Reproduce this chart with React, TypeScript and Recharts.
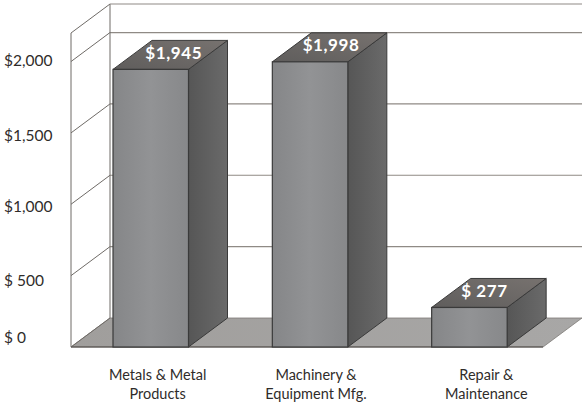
import React from 'react';
import { BarChart, Bar, XAxis, YAxis, CartesianGrid } from 'recharts';

const categories = ['Metals & Metal|Products', 'Machinery &|Equipment Mfg.', 'Repair &|Maintenance'];
const values = [1945, 1998, 277];
const valueLabels = ['$1,945', '$1,998', '$ 277'];
const yTicks = [0, 500, 1000, 1500, 2000, 2200];
const yLabels: Record<number, string> = { 0: '$ 0', 500: '$ 500', 1000: '$1,000', 1500: '$1,500', 2000: '$2,000', 2200: '' };
const yLabelNudge: Record<number, number> = { 0: -9, 500: 5.5, 1000: 3, 1500: 3.5, 2000: -1, 2200: 0 };
const xLabelNudge = [7, 6, 17];
const valueLabelNudge = [23, 21, 15];

const table = categories.map((name, i) => ({ name, value: values[i], label: valueLabels[i] }));

// Oblique projection used for the floor, the wall and the bar depth
const DX = 39;
const DY = 29;
const FONT = 'Lato, "Open Sans", sans-serif';

function wallLine(p: any) {
  const { x1, y1, x2, y, height, index } = p;
  const bottom = y + height;
  const isFloor = Math.abs(y1 - bottom) < 0.5;
  const isTop = Math.abs(y1 - y) < 0.5;
  return (
    <g key={`wall-${index}`}>
      {isFloor && (
        <polygon
          points={`${x1},${y1} ${x1 + DX},${y1 - DY} ${x2 + 33},${y1 - DY} ${x2 - 6},${y1}`}
          fill="url(#floorFill)"
          stroke="#7d7a76"
          strokeWidth={0.8}
        />
      )}
      {isTop && (
        <>
          <line x1={x1} y1={y1} x2={x1} y2={bottom} stroke="#6f6b67" strokeWidth={1} />
          <line x1={x1 + DX} y1={y1 - DY} x2={x1 + DX} y2={bottom - DY} stroke="#6f6b67" strokeWidth={1} />
        </>
      )}
      <line x1={x1} y1={y1} x2={x1 + DX} y2={y1 - DY} stroke="#6f6b67" strokeWidth={1} />
      {!isFloor && <line x1={x1 + DX} y1={y1 - DY} x2={x2 + 33} y2={y1 - DY} stroke="#8f8a85" strokeWidth={1.2} />}
      {isFloor && <line x1={x1} y1={y1} x2={x2 - 6} y2={y1} stroke="#4a4743" strokeWidth={1.2} />}
    </g>
  );
}

function Box3D(p: any) {
  const { x, y, width, height, payload, index } = p;
  const r = x + width;
  const b = y + height;
  return (
    <g>
      <polygon points={`${r},${y} ${r + DX},${y - DY} ${r + DX},${b - DY} ${r},${b}`} fill="url(#sideFill)" stroke="#3a3a3a" strokeWidth={1} />
      <polygon points={`${x},${y} ${x + DX},${y - DY} ${r + DX},${y - DY} ${r},${y}`} fill="url(#topFill)" stroke="#3a3a3a" strokeWidth={1} />
      <rect x={x} y={y} width={width} height={height} fill="url(#frontFill)" stroke="#3a3a3a" strokeWidth={1.2} />
      <text
        x={x + width / 2 + valueLabelNudge[index]}
        y={y - 10.5}
        textAnchor="middle"
        fill="#ffffff"
        fontFamily={FONT}
        fontWeight={700}
        fontSize={17}
        letterSpacing={0.6}
      >
        {payload.label}
      </text>
    </g>
  );
}

function YTick(p: any) {
  const { y, payload } = p;
  const v = payload.value;
  return (
    <text x={4} y={y + yLabelNudge[v] + 5} fill="#2f2c2a" fontFamily={FONT} fontSize={15.5}>
      {yLabels[v]}
    </text>
  );
}

function XTick(p: any) {
  const { x, y, payload, index } = p;
  const lines = String(payload.value).split('|');
  const cx = x + xLabelNudge[index];
  return (
    <text x={cx} textAnchor="middle" fill="#2f2c2a" fontFamily={FONT} fontSize={14.5}>
      {lines.map((t, i) => (
        <tspan key={t} x={cx} y={y + 25 + i * 19}>
          {t}
        </tspan>
      ))}
    </text>
  );
}

export default function App() {
  return (
    <div style={{ position: 'absolute', left: 0, top: 0, width: 582, height: 403 }}>
      <BarChart
        width={582}
        height={403}
        data={table}
        margin={{ top: 33, right: 33, bottom: 0, left: 0 }}
        barCategoryGap={0}
      >
        <defs>
          <linearGradient id="frontFill" x1="0" y1="0" x2="1" y2="0">
            <stop offset="0" stopColor="#858688" />
            <stop offset="0.5" stopColor="#929395" />
            <stop offset="1" stopColor="#87888a" />
          </linearGradient>
          <linearGradient id="sideFill" x1="0" y1="0" x2="1" y2="0">
            <stop offset="0" stopColor="#565656" />
            <stop offset="1" stopColor="#6a6a6a" />
          </linearGradient>
          <linearGradient id="topFill" x1="0" y1="1" x2="1" y2="0">
            <stop offset="0" stopColor="#5f5d5c" />
            <stop offset="1" stopColor="#77726f" />
          </linearGradient>
          <linearGradient id="floorFill" x1="0" y1="0" x2="1" y2="0">
            <stop offset="0" stopColor="#a09e9c" />
            <stop offset="1" stopColor="#a8a7a6" />
          </linearGradient>
        </defs>
        <CartesianGrid vertical={false} horizontal={wallLine as any} />
        <XAxis dataKey="name" axisLine={false} tickLine={false} tick={<XTick />} interval={0} height={56} />
        <YAxis
          width={71}
          domain={[0, 2200]}
          ticks={yTicks}
          axisLine={false}
          tickLine={false}
          tick={<YTick />}
          interval={0}
        />
        <Bar dataKey="value" barSize={75.5} shape={<Box3D />} isAnimationActive={false} />
      </BarChart>
    </div>
  );
}
